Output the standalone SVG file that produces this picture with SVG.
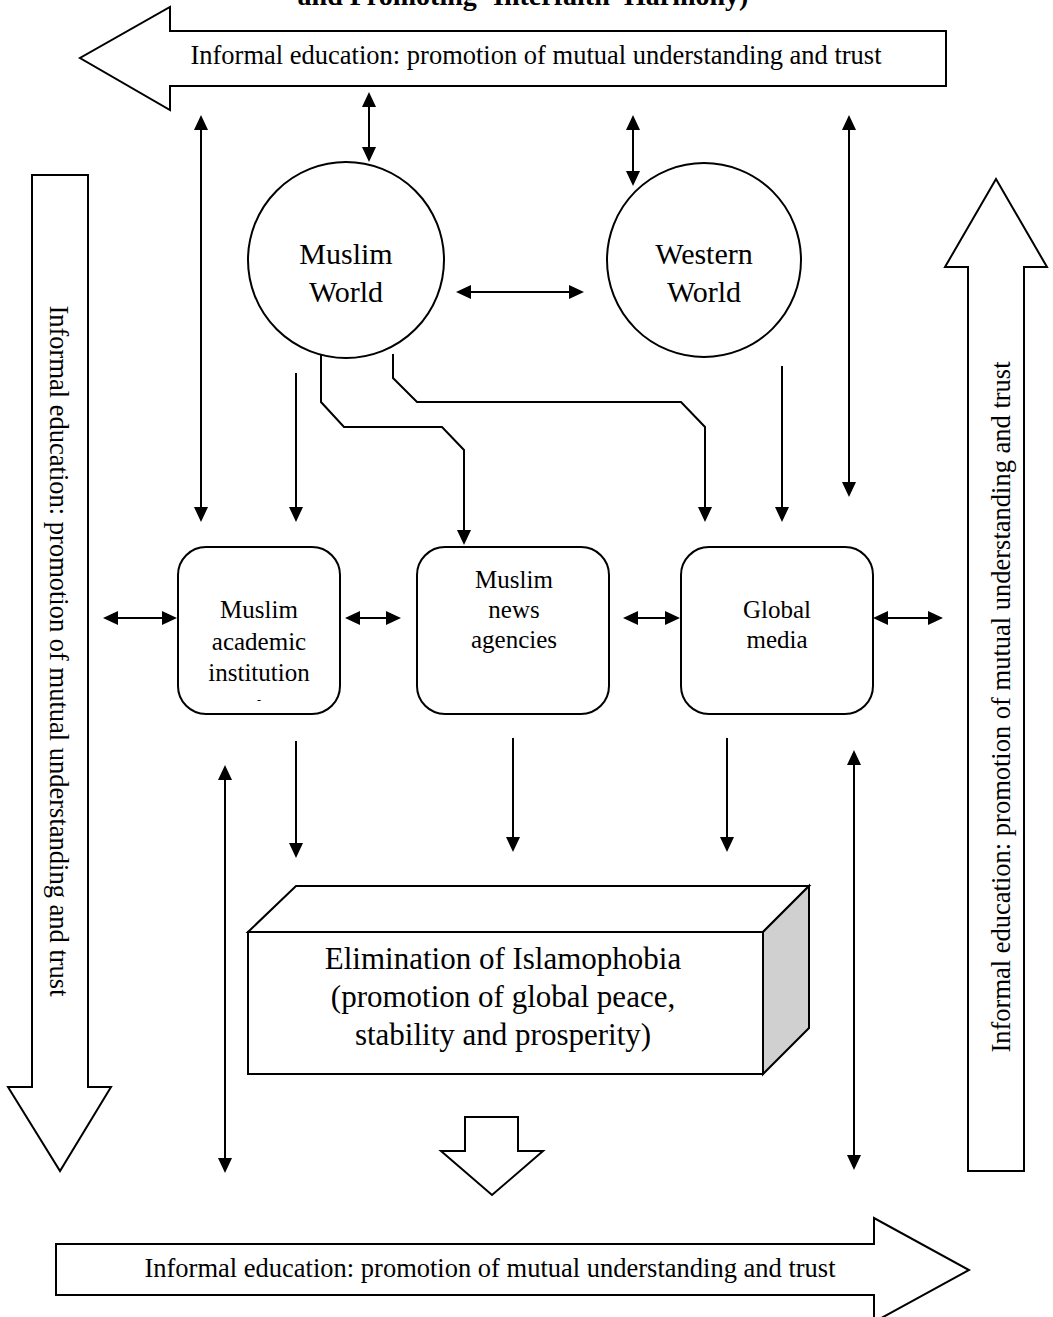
<svg xmlns="http://www.w3.org/2000/svg" width="1053" height="1317" viewBox="0 0 1053 1317">
<defs>
<marker id="ah" viewBox="0 0 15 14" refX="12" refY="7" markerWidth="15" markerHeight="14" markerUnits="userSpaceOnUse" orient="auto-start-reverse">
<path d="M0,0 L15,7 L0,14 Z" fill="#000"/>
</marker>
<style>
.t{font-family:"Liberation Serif","Times New Roman",serif;fill:#000;text-anchor:middle}
.sh{fill:#fff;stroke:#000;stroke-width:2}
.c{fill:none;stroke:#000;stroke-width:2}
.one{marker-end:url(#ah)}
.two{marker-start:url(#ah);marker-end:url(#ah)}
</style>
</defs>
<rect width="1053" height="1317" fill="#fff"/>
<text class="t" x="523" y="5" font-size="28" font-weight="bold">and Promoting ‘Interfaith’ Harmony)</text>

<g id="arrow-top">
<polygon class="sh" points="946,31 170,31 170,7 80,58 170,110 170,86 946,86"/>
<text class="t" x="536" y="64" font-size="26.5">Informal education: promotion of mutual understanding and trust</text>
</g>
<g id="arrow-left">
<polygon class="sh" points="32,175 88,175 88,1087 111,1087 60,1171 8,1087 32,1087"/>
<text class="t" transform="translate(59,651) rotate(90)" x="0" y="9" font-size="26.5">Informal education: promotion of mutual understanding and trust</text>
</g>
<g id="arrow-right">
<polygon class="sh" points="996,179 1047,267 1024,267 1024,1171 968,1171 968,267 945,267"/>
<text class="t" transform="translate(1001,707) rotate(-90)" x="0" y="9" font-size="26.5">Informal education: promotion of mutual understanding and trust</text>
</g>
<g id="arrow-bottom">
<polygon class="sh" points="56,1244 874,1244 874,1218 969,1270 874,1322 874,1295 56,1295"/>
<text class="t" x="490" y="1277" font-size="26.5">Informal education: promotion of mutual understanding and trust</text>
</g>

<g id="muslim-world">
<circle class="sh" cx="346" cy="260" r="98"/>
<text class="t" x="346" y="264" font-size="30">Muslim</text>
<text class="t" x="346" y="302" font-size="30">World</text>
</g>
<g id="western-world">
<circle class="sh" cx="704" cy="260" r="97"/>
<text class="t" x="704" y="264" font-size="30">Western</text>
<text class="t" x="704" y="302" font-size="30">World</text>
</g>

<g id="academic">
<rect class="sh" x="178" y="547" width="162" height="167" rx="28"/>
<text class="t" x="259" y="618" font-size="25">Muslim</text>
<text class="t" x="259" y="650" font-size="25">academic</text>
<text class="t" x="259" y="681" font-size="25">institution</text>
<text class="t" x="259" y="704" font-size="12">-</text>
</g>
<g id="news">
<rect class="sh" x="417" y="547" width="192" height="167" rx="28"/>
<text class="t" x="514" y="588" font-size="25">Muslim</text>
<text class="t" x="514" y="618" font-size="25">news</text>
<text class="t" x="514" y="648" font-size="25">agencies</text>
</g>
<g id="global-media">
<rect class="sh" x="681" y="547" width="192" height="167" rx="28"/>
<text class="t" x="777" y="618" font-size="25">Global</text>
<text class="t" x="777" y="648" font-size="25">media</text>
</g>

<g id="elimination">
<polygon class="sh" points="248,932 296,886 809,886 763,932"/>
<polygon points="763,932 809,886 809,1028 763,1074" fill="#d0d0d0" stroke="#000" stroke-width="2"/>
<rect class="sh" x="248" y="932" width="515" height="142"/>
<text class="t" x="503" y="969" font-size="31">Elimination of Islamophobia</text>
<text class="t" x="503" y="1007" font-size="31">(promotion of global peace,</text>
<text class="t" x="503" y="1045" font-size="31">stability and prosperity)</text>
</g>
<g id="down-block">
<polygon class="sh" points="465,1117 518,1117 518,1151 543,1151 492,1195 441,1151 465,1151"/>
</g>

<g id="connectors">
<line class="c two" x1="369" y1="95" x2="369" y2="159"/>
<line class="c two" x1="633" y1="118" x2="633" y2="183"/>
<line class="c two" x1="201" y1="118" x2="201" y2="519"/>
<line class="c two" x1="849" y1="118" x2="849" y2="494"/>
<line class="c two" x1="459" y1="292" x2="581" y2="292"/>
<line class="c one" x1="296" y1="373" x2="296" y2="519"/>
<line class="c one" x1="782" y1="366" x2="782" y2="519"/>
<polyline class="c one" points="321,354 321,402 344,427 442,427 464,450 464,542"/>
<polyline class="c one" points="393,354 393,378 417,402 681,402 705,427 705,519"/>
<line class="c two" x1="106" y1="618" x2="174" y2="618"/>
<line class="c two" x1="348" y1="618" x2="398" y2="618"/>
<line class="c two" x1="626" y1="618" x2="677" y2="618"/>
<line class="c two" x1="876" y1="618" x2="940" y2="618"/>
<line class="c one" x1="296" y1="741" x2="296" y2="855"/>
<line class="c one" x1="513" y1="738" x2="513" y2="849"/>
<line class="c one" x1="727" y1="738" x2="727" y2="849"/>
<line class="c two" x1="225" y1="768" x2="225" y2="1170"/>
<line class="c two" x1="854" y1="753" x2="854" y2="1167"/>
</g>
</svg>
